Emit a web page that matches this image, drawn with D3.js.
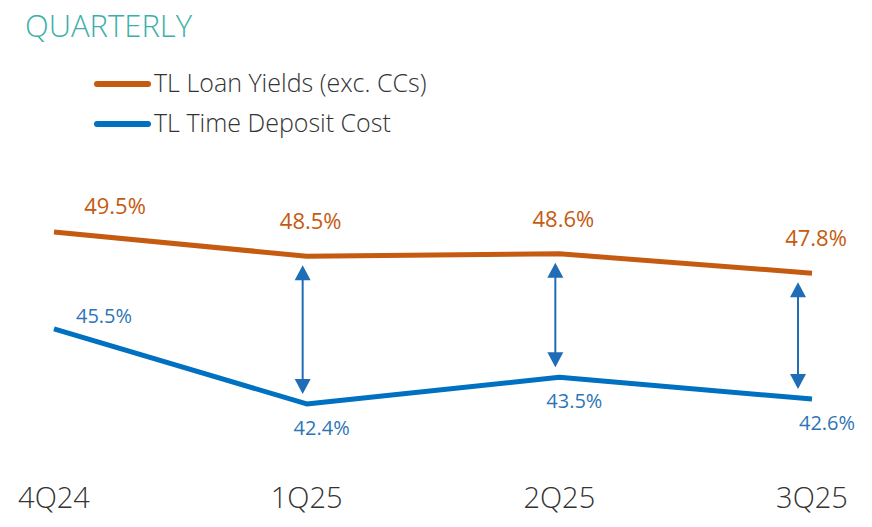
<!DOCTYPE html>
<html>
<head>
<meta charset="utf-8">
<script src="https://cdn.jsdelivr.net/npm/d3@7"></script>
<style>
  body { margin: 0; background: #fff; }
  svg text { font-family: "Open Sans", "Noto Sans", sans-serif; }
</style>
</head>
<body>
<div id="chart"></div>
<script>
// data
var quarters = ["4Q24", "1Q25", "2Q25", "3Q25"];
var loanYields = [49.5, 48.5, 48.6, 47.8];
var depositCost = [45.5, 42.4, 43.5, 42.6];
var seriesNames = ["TL Loan Yields (exc. CCs)", "TL Time Deposit Cost"];
var arrowQuarters = ["1Q25", "2Q25", "3Q25"];

var width = 872, height = 527;
var orange = "#C55A11", blue = "#0070C0", arrowBlue = "#1F6DB6";

var svg = d3.select("#chart").append("svg")
  .attr("width", width)
  .attr("height", height);

var x = d3.scalePoint().domain(quarters).range([54, 812]);
var y = d3.scaleLinear().domain([40, 52]).range([462, 171.5]);

// title
svg.append("text")
  .attr("x", 25).attr("y", 37)
  .style("font-size", "31px")
  .style("font-weight", 300)
  .style("fill", "#3DAFAA")
  .text("QUARTERLY");

// legend
var legend = svg.append("g");
[orange, blue].forEach(function (c, i) {
  legend.append("line")
    .attr("x1", 97).attr("x2", 148)
    .attr("y1", 84 + i * 40).attr("y2", 84 + i * 40)
    .attr("stroke", c).attr("stroke-width", 6)
    .attr("stroke-linecap", "round");
  legend.append("text")
    .attr("x", 154).attr("y", 92 + i * 40)
    .style("font-size", "25px")
    .style("font-weight", 300)
    .style("fill", "#333")
    .text(seriesNames[i]);
});

var line = d3.line()
  .x(function (d, i) { return x(quarters[i]); })
  .y(function (d) { return y(d); });

[loanYields, depositCost].forEach(function (s, i) {
  svg.append("path")
    .datum(s)
    .attr("d", line)
    .attr("fill", "none")
    .attr("stroke", i === 0 ? orange : blue)
    .attr("stroke-width", 5)
    .attr("stroke-linejoin", "round");
});

// arrows between the two lines
var arrows = svg.append("g");
arrowQuarters.forEach(function (q) {
  var i = quarters.indexOf(q);
  var ax = x(q) - (i === quarters.length - 1 ? 14 : 4);
  var top = y(loanYields[i]) + 9;
  var bot = y(depositCost[i]) - 10;
  var hw = 8, hh = 15;
  arrows.append("line")
    .attr("x1", ax).attr("x2", ax)
    .attr("y1", top + hh - 1).attr("y2", bot - hh + 1)
    .attr("stroke", arrowBlue).attr("stroke-width", 2);
  arrows.append("path")
    .attr("d", "M" + ax + "," + top + "L" + (ax + hw) + "," + (top + hh) + "L" + (ax - hw) + "," + (top + hh) + "Z")
    .attr("fill", arrowBlue);
  arrows.append("path")
    .attr("d", "M" + ax + "," + bot + "L" + (ax + hw) + "," + (bot - hh) + "L" + (ax - hw) + "," + (bot - hh) + "Z")
    .attr("fill", arrowBlue);
});

// value labels
svg.selectAll(".loan-label")
  .data(loanYields)
  .enter().append("text")
  .attr("class", "loan-label")
  .attr("x", function (d, i) { return x(quarters[i]) + (i === 0 ? 61 : 4); })
  .attr("y", function (d, i) { return y(d) - (i === 0 ? 18 : 27); })
  .attr("text-anchor", "middle")
  .style("font-size", "22px")
  .style("fill", orange)
  .text(function (d) { return d.toFixed(1) + "%"; });

svg.selectAll(".dep-label")
  .data(depositCost)
  .enter().append("text")
  .attr("class", "dep-label")
  .attr("x", function (d, i) { return x(quarters[i]) + (i === 0 ? 50 : 15); })
  .attr("y", function (d, i) { return y(d) + (i === 0 ? -6 : 31); })
  .attr("text-anchor", "middle")
  .style("font-size", "20px")
  .style("fill", "#2E75B6")
  .text(function (d) { return d.toFixed(1) + "%"; });

// x axis labels
svg.selectAll(".q-label")
  .data(quarters)
  .enter().append("text")
  .attr("class", "q-label")
  .attr("x", function (d) { return x(d); })
  .attr("y", 508)
  .attr("text-anchor", "middle")
  .style("font-size", "29px")
  .style("font-weight", 300)
  .style("fill", "#333")
  .text(function (d) { return d; });
</script>
</body>
</html>
